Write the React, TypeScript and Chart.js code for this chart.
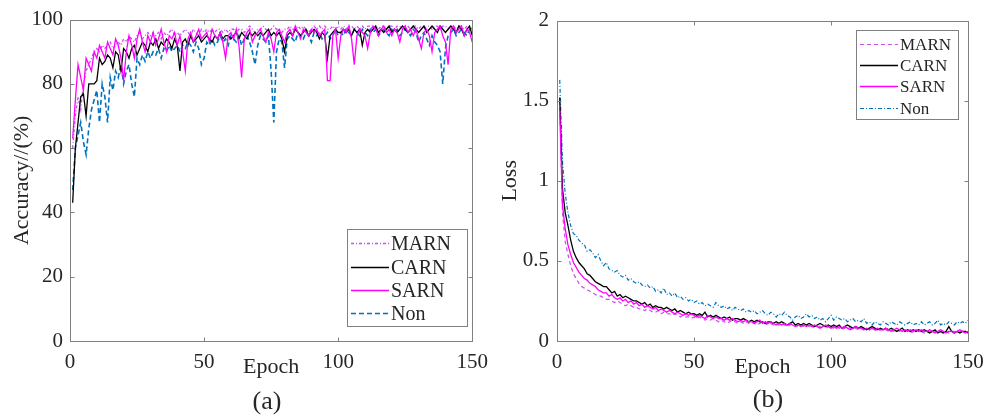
import React, { useEffect, useRef } from "react";
import { Chart, registerables } from "chart.js";
Chart.register(...registerables);

const FONT = "'Liberation Serif', 'Times New Roman', serif";
const TXT = "#262626";

// ---------- data ----------
const epochs: number[] = Array.from({ length: 150 }, (_, i) => i + 1);
const epochTicks = [0, 50, 100, 150];
const accTicks = [0, 20, 40, 60, 80, 100];
const lossTicks = [0, 0.5, 1, 1.5, 2];

const accMARN = [
  60, 70, 76, 72, 80, 84, 86, 88, 90, 91,
  90, 92, 91, 92, 93, 91, 92, 93, 92, 94,
  93, 95, 94, 93, 95, 96, 94, 95, 96, 95,
  96, 95, 96, 94, 96, 95, 96, 97, 95, 96,
  95, 96, 97, 96, 95, 97, 96, 95, 97, 96,
  97, 96, 97, 96, 97, 97, 96, 97, 96, 97,
  97, 96, 97, 97, 96, 97, 98, 97, 96, 97,
  97, 98, 97, 96, 97, 98, 97, 97, 96, 97,
  97, 98, 97, 97, 98, 97, 98, 97, 96, 97,
  98, 97, 98, 97, 98, 97, 97, 98, 97, 98,
  97, 98, 97, 98, 98, 97, 98, 97, 98, 97,
  98, 98, 97, 98, 97, 98, 98, 97, 98, 98,
  97, 98, 98, 97, 98, 98, 97, 98, 98, 97,
  98, 97, 98, 98, 97, 98, 98, 97, 98, 98,
  97, 98, 98, 97, 98, 98, 97, 98, 98, 97,
];
const accCARN = [
  43, 60, 68, 76, 77, 70, 80, 80, 80, 81,
  88, 86, 87, 89, 88, 85, 90, 89, 84, 91,
  90, 88, 91, 92, 89, 91, 93, 92, 90, 93,
  92, 94, 91, 93, 92, 94, 93, 91, 94, 92,
  84, 93, 94, 92, 95, 93, 94, 95, 93, 94,
  95, 94, 93, 95, 94, 96, 94, 95, 95, 94,
  95, 96, 94, 96, 95, 94, 96, 95, 96, 95,
  96, 95, 96, 97, 95, 96, 95, 96, 94, 90,
  95, 96, 95, 97, 96, 95, 96, 97, 95, 96,
  97, 96, 94, 96, 95, 88, 95, 96, 97, 96,
  96, 97, 96, 97, 95, 97, 96, 97, 92, 96,
  97, 96, 97, 98, 96, 97, 96, 97, 98, 96,
  97, 96, 97, 98, 97, 96, 97, 98, 97, 96,
  97, 98, 96, 97, 98, 97, 96, 98, 97, 96,
  97, 98, 97, 96, 98, 97, 95, 97, 98, 95,
];
const accSARN = [
  63, 75, 86, 82, 78, 88, 86, 84, 90, 88,
  92, 90, 88, 93, 91, 89, 94, 92, 88, 81,
  90, 95, 92, 88, 94, 97, 93, 90, 95, 93,
  96, 92, 94, 97, 93, 90, 95, 94, 96, 92,
  95, 90, 84, 94, 96, 93, 95, 97, 94, 95,
  96, 93, 97, 95, 94, 96, 93, 88, 95, 96,
  94, 97, 92, 82, 94, 96, 97, 93, 95, 96,
  97, 95, 93, 96, 94, 90, 96, 97, 95, 93,
  96, 97, 95, 98, 96, 94, 97, 96, 95, 97,
  96, 97, 95, 96, 97, 81, 81, 95, 97, 88,
  95, 97, 96, 98, 94, 86, 95, 97, 96, 95,
  91, 96, 98, 97, 95, 97, 98, 96, 97, 95,
  97, 96, 93, 97, 98, 96, 97, 95, 97, 94,
  91, 96, 97, 95, 90, 96, 97, 98, 95, 93,
  86, 97, 98, 96, 97, 98, 95, 97, 96, 93,
];
const accNon = [
  47, 60, 64, 68, 62, 58, 66, 72, 75, 78,
  68, 80, 76, 68, 82, 78, 84, 82, 86, 80,
  84, 86, 80, 76, 88, 86, 89, 87, 90, 88,
  90, 89, 91, 88, 91, 90, 92, 90, 91, 92,
  90, 92, 91, 93, 92, 90, 93, 91, 86, 88,
  93, 92, 94, 92, 93, 95, 93, 94, 92, 95,
  94, 93, 95, 92, 94, 95, 93, 90, 86, 92,
  95, 94, 93, 95, 84, 68, 90, 94, 93, 85,
  94, 95, 94, 93, 96, 95, 94, 96, 95, 93,
  96, 95, 96, 94, 95, 96, 94, 95, 97, 95,
  96, 95, 97, 96, 95, 97, 96, 95, 97, 96,
  95, 97, 96, 97, 95, 96, 97, 96, 95, 97,
  96, 97, 95, 96, 97, 96, 95, 97, 96, 93,
  95, 96, 94, 92, 95, 93, 92, 90, 80, 91,
  95, 96, 97, 95, 96, 97, 96, 95, 97, 96,
];

const lossMARN = [
  1.5, 0.8, 0.62, 0.54, 0.47, 0.42, 0.39, 0.36, 0.34, 0.33,
  0.32, 0.31, 0.3, 0.29, 0.28, 0.28, 0.27, 0.26, 0.26, 0.25,
  0.24, 0.25, 0.24, 0.23, 0.22, 0.23, 0.22, 0.21, 0.21, 0.2,
  0.2, 0.19, 0.2, 0.19, 0.18, 0.18, 0.19, 0.17, 0.18, 0.17,
  0.17, 0.16, 0.17, 0.16, 0.15, 0.16, 0.15, 0.15, 0.14, 0.15,
  0.14, 0.15, 0.14, 0.13, 0.14, 0.13, 0.14, 0.13, 0.12, 0.13,
  0.12, 0.11, 0.12, 0.13, 0.12, 0.11, 0.12, 0.11, 0.12, 0.11,
  0.12, 0.11, 0.1, 0.11, 0.12, 0.11, 0.1, 0.11, 0.1, 0.11,
  0.1, 0.11, 0.1, 0.09, 0.1, 0.11, 0.1, 0.09, 0.1, 0.09,
  0.1, 0.09, 0.08, 0.09, 0.1, 0.09, 0.08, 0.09, 0.08, 0.09,
  0.08, 0.09, 0.08, 0.07, 0.08, 0.09, 0.08, 0.07, 0.08, 0.07,
  0.08, 0.07, 0.08, 0.07, 0.08, 0.07, 0.06, 0.07, 0.08, 0.07,
  0.06, 0.07, 0.06, 0.07, 0.06, 0.07, 0.06, 0.07, 0.06, 0.05,
  0.06, 0.07, 0.06, 0.05, 0.06, 0.06, 0.05, 0.06, 0.05, 0.06,
  0.05, 0.06, 0.05, 0.06, 0.06, 0.05, 0.06, 0.05, 0.06, 0.05,
];
const lossCARN = [
  1.52, 0.95, 0.8, 0.72, 0.63, 0.56, 0.52, 0.49, 0.47, 0.45,
  0.42, 0.41, 0.39, 0.37, 0.36, 0.35, 0.34, 0.34, 0.32, 0.3,
  0.31, 0.28, 0.29, 0.27, 0.28, 0.27, 0.26, 0.25, 0.25, 0.24,
  0.23, 0.24, 0.22, 0.23, 0.21, 0.22, 0.21, 0.21, 0.2, 0.21,
  0.2, 0.19, 0.2, 0.18, 0.19, 0.18, 0.17, 0.18, 0.17, 0.17,
  0.16, 0.17, 0.16, 0.18, 0.15, 0.16, 0.15, 0.16, 0.15, 0.14,
  0.15, 0.14, 0.15, 0.13, 0.14, 0.14, 0.13, 0.14, 0.13, 0.12,
  0.13, 0.12, 0.13, 0.12, 0.12, 0.11, 0.12, 0.12, 0.11, 0.12,
  0.11, 0.12, 0.11, 0.1, 0.11, 0.12, 0.1, 0.11, 0.1, 0.11,
  0.1, 0.11, 0.1, 0.09, 0.1, 0.11, 0.1, 0.09, 0.1, 0.09,
  0.1, 0.09, 0.1, 0.08, 0.09, 0.1, 0.09, 0.08, 0.09, 0.08,
  0.09, 0.08, 0.07, 0.08, 0.09, 0.08, 0.07, 0.08, 0.07, 0.08,
  0.07, 0.08, 0.07, 0.06, 0.07, 0.08, 0.06, 0.07, 0.06, 0.07,
  0.06, 0.07, 0.06, 0.07, 0.06, 0.05, 0.06, 0.07, 0.05, 0.06,
  0.05, 0.06, 0.09, 0.06, 0.05, 0.06, 0.05, 0.06, 0.06, 0.05,
];
const lossSARN = [
  1.44, 0.85, 0.7, 0.6, 0.54, 0.49, 0.46, 0.43, 0.41, 0.39,
  0.38, 0.36, 0.35, 0.34, 0.32, 0.31, 0.3, 0.3, 0.28, 0.29,
  0.27, 0.26, 0.27, 0.25, 0.26, 0.24, 0.25, 0.23, 0.24, 0.22,
  0.23, 0.21, 0.22, 0.21, 0.2, 0.21, 0.19, 0.2, 0.19, 0.18,
  0.19, 0.18, 0.17, 0.18, 0.17, 0.16, 0.17, 0.16, 0.17, 0.16,
  0.15, 0.16, 0.15, 0.14, 0.16, 0.15, 0.14, 0.15, 0.14, 0.14,
  0.13, 0.14, 0.13, 0.14, 0.13, 0.12, 0.13, 0.12, 0.13, 0.12,
  0.12, 0.11, 0.12, 0.13, 0.11, 0.12, 0.11, 0.12, 0.11, 0.1,
  0.11, 0.1, 0.11, 0.1, 0.11, 0.1, 0.09, 0.1, 0.09, 0.1,
  0.09, 0.1, 0.09, 0.1, 0.09, 0.08, 0.09, 0.1, 0.09, 0.08,
  0.09, 0.08, 0.09, 0.08, 0.09, 0.08, 0.07, 0.08, 0.09, 0.08,
  0.08, 0.07, 0.08, 0.07, 0.08, 0.07, 0.08, 0.07, 0.07, 0.08,
  0.07, 0.06, 0.07, 0.08, 0.07, 0.06, 0.07, 0.06, 0.07, 0.06,
  0.07, 0.06, 0.07, 0.06, 0.06, 0.07, 0.06, 0.05, 0.06, 0.07,
  0.06, 0.05, 0.06, 0.06, 0.05, 0.06, 0.07, 0.06, 0.05, 0.06,
];
const lossNon = [
  1.63, 1.12, 0.92, 0.8, 0.72, 0.67, 0.66, 0.63, 0.61, 0.6,
  0.56, 0.57, 0.55, 0.52, 0.54, 0.5, 0.47, 0.49, 0.45, 0.44,
  0.43, 0.44, 0.41, 0.4, 0.41, 0.38, 0.39, 0.37, 0.36, 0.37,
  0.35, 0.34, 0.35, 0.33, 0.34, 0.31, 0.32, 0.3, 0.33, 0.29,
  0.3, 0.28, 0.3, 0.27, 0.28, 0.26, 0.27, 0.25, 0.26, 0.24,
  0.25, 0.23, 0.24, 0.22, 0.23, 0.22, 0.21, 0.24, 0.22, 0.21,
  0.22, 0.2, 0.21, 0.19, 0.21, 0.2, 0.19, 0.2, 0.18, 0.19,
  0.18, 0.19, 0.17, 0.18, 0.19, 0.17, 0.16, 0.18, 0.17, 0.15,
  0.17, 0.16, 0.18, 0.16, 0.15, 0.13, 0.15, 0.16, 0.14, 0.15,
  0.17, 0.15, 0.16, 0.14, 0.15, 0.13, 0.14, 0.12, 0.14, 0.16,
  0.13, 0.15, 0.14, 0.13, 0.14, 0.12, 0.13, 0.14, 0.12, 0.13,
  0.12, 0.14, 0.11, 0.12, 0.1, 0.12, 0.11, 0.1, 0.12, 0.11,
  0.1, 0.12, 0.11, 0.1, 0.12, 0.11, 0.1, 0.11, 0.12, 0.1,
  0.11, 0.1, 0.12, 0.1, 0.11, 0.12, 0.1, 0.11, 0.13, 0.1,
  0.11, 0.1, 0.12, 0.11, 0.1, 0.12, 0.11, 0.12, 0.11, 0.13,
];

// ---------- styles ----------
const C_MARN = "#c94fef";
const C_CARN = "#000000";
const C_SARN = "#ff00ff";
const C_NON = "#0072bd";

type LegendCfg = {
  rightInset: number;
  fromTop?: number;
  fromBottom?: number;
  width: number;
  height: number;
  rows: number[];
  fontSize: number;
};

const pts = (vals: number[]) => epochs.map((e, i) => ({ x: e, y: vals[i] }));

function makeFramePlugin(xTicks: number[], yTicks: number[]) {
  return {
    id: "frame",
    afterDatasetsDraw(chart: any) {
      const { ctx, chartArea, scales } = chart;
      const L = Math.round(chartArea.left) + 0.5;
      const R = Math.round(chartArea.right) + 0.5;
      const T = Math.round(chartArea.top) + 0.5;
      const B = Math.round(chartArea.bottom) + 0.5;
      const tl = 4;
      ctx.save();
      ctx.strokeStyle = "#808080";
      ctx.lineWidth = 1;
      ctx.setLineDash([]);
      ctx.strokeRect(L, T, R - L, B - T);
      ctx.beginPath();
      for (const v of xTicks) {
        const px = Math.round(scales.x.getPixelForValue(v)) + 0.5;
        ctx.moveTo(px, B);
        ctx.lineTo(px, B - tl);
        ctx.moveTo(px, T);
        ctx.lineTo(px, T + tl);
      }
      for (const v of yTicks) {
        const py = Math.round(scales.y.getPixelForValue(v)) + 0.5;
        ctx.moveTo(L, py);
        ctx.lineTo(L + tl, py);
        ctx.moveTo(R, py);
        ctx.lineTo(R - tl, py);
      }
      ctx.stroke();
      ctx.restore();
    },
  };
}

function makeLegendPlugin(cfg: LegendCfg) {
  return {
    id: "boxLegend",
    afterDraw(chart: any) {
      const { ctx, chartArea } = chart;
      const x0 = Math.round(chartArea.right - cfg.rightInset - cfg.width);
      const y0 = Math.round(
        cfg.fromBottom != null
          ? chartArea.bottom - cfg.fromBottom - cfg.height
          : chartArea.top + (cfg.fromTop || 0)
      );
      ctx.save();
      ctx.fillStyle = "#ffffff";
      ctx.fillRect(x0, y0, cfg.width, cfg.height);
      ctx.strokeStyle = "#808080";
      ctx.lineWidth = 1;
      ctx.setLineDash([]);
      ctx.strokeRect(x0 + 0.5, y0 + 0.5, cfg.width, cfg.height);
      const order = ["MARN", "CARN", "SARN", "Non"];
      order.forEach((name, i) => {
        const ds = chart.data.datasets.find((d: any) => d.label === name);
        if (!ds) return;
        const y = y0 + cfg.rows[i] + 0.5;
        ctx.beginPath();
        ctx.strokeStyle = ds.borderColor;
        ctx.lineWidth = Math.max(1.2, ds.borderWidth);
        ctx.setLineDash(ds.borderDash || []);
        ctx.moveTo(x0 + 4, y);
        ctx.lineTo(x0 + 42, y);
        ctx.stroke();
        ctx.setLineDash([]);
        ctx.fillStyle = TXT;
        ctx.font = `${cfg.fontSize}px ${FONT}`;
        ctx.textAlign = "left";
        ctx.textBaseline = "middle";
        ctx.fillText(name, x0 + 44, y + 1);
      });
      ctx.restore();
    },
  };
}

function baseOptions(
  yMin: number,
  yMax: number,
  yTicks: number[],
  yTitle: string,
  yWidth: number,
  yTitlePad: number,
  yTickPad: number,
  padding: any
) {
  return {
    responsive: false,
    animation: false as const,
    devicePixelRatio: 1,
    layout: { padding },
    plugins: { legend: { display: false }, tooltip: { enabled: false }, title: { display: false } },
    elements: { point: { radius: 0 }, line: { tension: 0 } },
    scales: {
      x: {
        type: "linear" as const,
        min: 0,
        max: 150,
        afterBuildTicks: (s: any) => {
          s.ticks = epochTicks.map((v) => ({ value: v }));
        },
        afterFit: (s: any) => {
          s.height = 40;
        },
        grid: { display: false, drawTicks: false },
        border: { display: false },
        ticks: {
          font: { family: FONT, size: 21 },
          color: TXT,
          padding: 9,
          maxRotation: 0,
          autoSkip: false,
          callback: (v: any) => String(v),
        },
        title: {
          display: true,
          text: "Epoch",
          font: { family: FONT, size: 22 },
          color: TXT,
          padding: { top: 0, bottom: 1 },
        },
      },
      y: {
        type: "linear" as const,
        min: yMin,
        max: yMax,
        afterBuildTicks: (s: any) => {
          s.ticks = yTicks.map((v) => ({ value: v }));
        },
        afterFit: (s: any) => {
          s.width = yWidth;
        },
        grid: { display: false, drawTicks: false },
        border: { display: false },
        ticks: {
          font: { family: FONT, size: 21 },
          color: TXT,
          padding: yTickPad,
          callback: (v: any) => String(v),
        },
        title: {
          display: true,
          text: yTitle,
          font: { family: FONT, size: 22 },
          color: TXT,
          padding: { top: yTitlePad, bottom: 0 },
        },
      },
    },
  };
}

function AccuracyChart() {
  const ref = useRef<HTMLCanvasElement | null>(null);
  useEffect(() => {
    if (!ref.current) return;
    const chart = new Chart(ref.current, {
      type: "line",
      data: {
        datasets: [
          { label: "SARN", data: pts(accSARN), borderColor: C_SARN, borderWidth: 1.3, borderDash: [] },
          { label: "CARN", data: pts(accCARN), borderColor: C_CARN, borderWidth: 1.3, borderDash: [] },
          { label: "MARN", data: pts(accMARN), borderColor: C_MARN, borderWidth: 1.3, borderDash: [3, 2, 1, 2] },
          { label: "Non", data: pts(accNon), borderColor: C_NON, borderWidth: 1.6, borderDash: [5, 3] },
        ],
      },
      options: baseOptions(0, 100, accTicks, "Accuracy//(%)", 70, 9, 7, {
        left: 0,
        top: 17,
        right: 13,
        bottom: 38,
      }) as any,
      plugins: [
        makeFramePlugin(epochTicks, accTicks),
        makeLegendPlugin({
          rightInset: 5,
          fromBottom: 15,
          width: 120,
          height: 97,
          rows: [14, 38, 61, 84],
          fontSize: 20,
        }),
      ],
    });
    return () => chart.destroy();
  }, []);
  return (
    <canvas
      ref={ref}
      width={497}
      height={419}
      style={{ position: "absolute", left: 0, top: 0, width: 497, height: 419 }}
    />
  );
}

function LossChart() {
  const ref = useRef<HTMLCanvasElement | null>(null);
  useEffect(() => {
    if (!ref.current) return;
    const chart = new Chart(ref.current, {
      type: "line",
      data: {
        datasets: [
          { label: "SARN", data: pts(lossSARN), borderColor: C_SARN, borderWidth: 1.3, borderDash: [] },
          { label: "CARN", data: pts(lossCARN), borderColor: C_CARN, borderWidth: 1.3, borderDash: [] },
          { label: "MARN", data: pts(lossMARN), borderColor: C_MARN, borderWidth: 1.2, borderDash: [4, 3] },
          { label: "Non", data: pts(lossNon), borderColor: C_NON, borderWidth: 1.2, borderDash: [4, 2, 1, 2] },
        ],
      },
      options: baseOptions(0, 2, lossTicks, "Loss", 60, 0, 8, {
        left: 0,
        top: 17,
        right: 27,
        bottom: 38,
      }) as any,
      plugins: [
        makeFramePlugin(epochTicks, lossTicks),
        makeLegendPlugin({
          rightInset: 10,
          fromTop: 9,
          width: 102,
          height: 89,
          rows: [14, 35, 56, 78],
          fontSize: 17,
        }),
      ],
    });
    return () => chart.destroy();
  }, []);
  return (
    <canvas
      ref={ref}
      width={498}
      height={419}
      style={{ position: "absolute", left: 497, top: 0, width: 498, height: 419 }}
    />
  );
}

const captionStyle: React.CSSProperties = {
  position: "absolute",
  width: 100,
  textAlign: "center",
  fontFamily: FONT,
  fontSize: 26,
  lineHeight: "26px",
  color: TXT,
};

export default function App() {
  return (
    <div
      style={{
        position: "fixed",
        left: 0,
        top: 0,
        width: 995,
        height: 419,
        background: "#ffffff",
        overflow: "hidden",
      }}
    >
      <AccuracyChart />
      <LossChart />
      <div style={{ ...captionStyle, left: 217, top: 388 }}>(a)</div>
      <div style={{ ...captionStyle, left: 718, top: 386 }}>(b)</div>
    </div>
  );
}
